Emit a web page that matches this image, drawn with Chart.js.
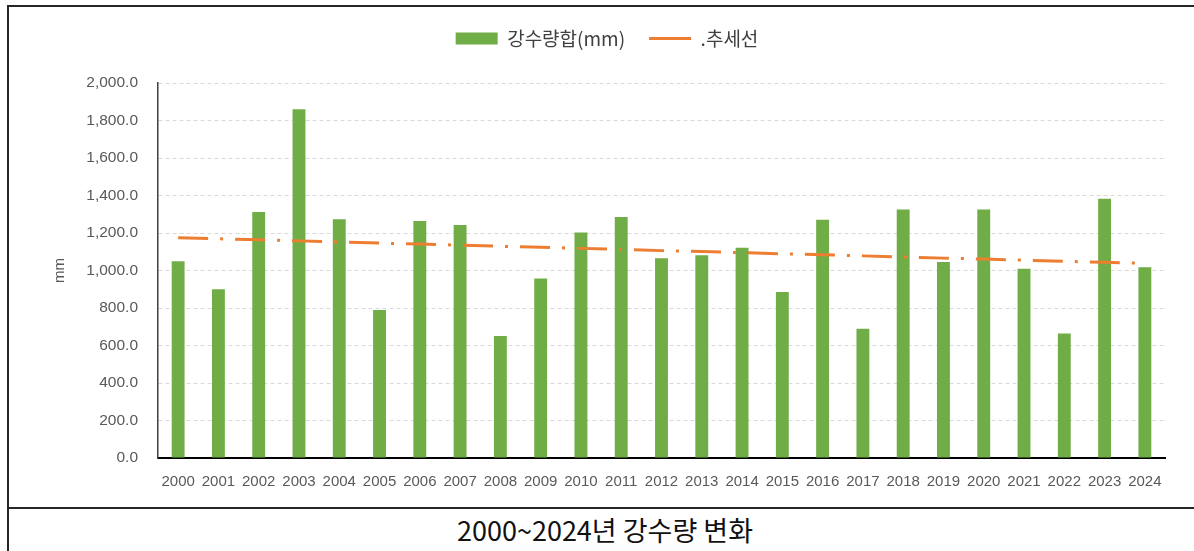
<!DOCTYPE html>
<html>
<head>
<meta charset="utf-8">
<script src="https://cdn.jsdelivr.net/npm/chart.js@4.4.0/dist/chart.umd.min.js"></script>
<style>
  body { margin: 0; background: #fff; width: 1194px; height: 551px; overflow: hidden; position: relative; }
  #frame { position: absolute; left: 7px; top: 5px; width: 1200px; height: 560px; border-left: 2px solid #262626; border-top: 2px solid #262626; }
  #chartBox { position: absolute; left: 9px; top: 7px; width: 1185px; height: 500px; }
  #sep { position: absolute; left: 7px; top: 507px; width: 1200px; height: 2px; background: #262626; }
  #caption { position: absolute; left: 9px; top: 509px; width: 1192px; height: 42px; line-height: 42px; text-align: center;
             font-family: "Noto Sans CJK KR", sans-serif; font-size: 27px; color: #111; }
</style>
</head>
<body>
<div id="frame"></div>
<div id="chartBox"><canvas id="rainChart"></canvas></div>
<div id="sep"></div>
<div id="caption">2000~2024년 강수량 변화</div>
<script>
var years = ["2000","2001","2002","2003","2004","2005","2006","2007","2008","2009","2010","2011","2012",
             "2013","2014","2015","2016","2017","2018","2019","2020","2021","2022","2023","2024"];
var rainfall = [1050, 900, 1312, 1860, 1274, 789, 1264, 1243, 651, 958, 1203, 1285, 1066,
                1081, 1122, 885, 1271, 690, 1326, 1046, 1326, 1010, 664, 1383, 1018];
var trend = [1175, 1169, 1164, 1158, 1152, 1146, 1141, 1135, 1129, 1124, 1118, 1112, 1106,
             1101, 1095, 1089, 1084, 1078, 1072, 1066, 1061, 1055, 1049, 1044, 1038];
var yTicks = [0, 200, 400, 600, 800, 1000, 1200, 1400, 1600, 1800, 2000];

var bar_color = "#70AD47";
var trend_color = "#ED7D31";
var tick_color = "#595959";

// push the plot area down below the legend
var legendSpacer = {
  id: 'legendSpacer',
  beforeInit: function(chart) {
    var origFit = chart.legend.fit;
    chart.legend.fit = function() {
      origFit.bind(chart.legend)();
      this.height += 25;
    };
  }
};

var ctx = document.getElementById("rainChart").getContext('2d');
var rain_chart = new Chart(ctx, {
  type: 'bar',
  data: {
    labels: years,
    datasets: [{
        label: "강수량합(mm)",
        type: "bar",
        backgroundColor: bar_color,
        data: rainfall,
        barPercentage: 0.32,
        categoryPercentage: 1.0,
        order: 1
      }, {
        label: ".추세선",
        type: "line",
        borderColor: trend_color,
        backgroundColor: trend_color,
        borderWidth: 3,
        borderDash: [30, 12, 3, 12],
        pointRadius: 0,
        fill: false,
        data: trend,
        order: 0
      }
    ]
  },
  plugins: [legendSpacer],
  options: {
    responsive: true,
    maintainAspectRatio: false,
    animation: false,
    layout: { padding: { left: 40, right: 29, top: -2, bottom: 0 } },
    plugins: {
      tooltip: { enabled: false },
      legend: {
        position: 'top',
        labels: {
          usePointStyle: true,
          pointStyleWidth: 42,
          boxHeight: 12,
          padding: 24,
          color: "#404040",
          font: { family: "'Noto Sans CJK KR', sans-serif", size: 19 },
          generateLabels: function(chart) {
            var items = Chart.defaults.plugins.legend.labels.generateLabels(chart);
            items.forEach(function(it) {
              it.lineDash = [];
              it.pointStyle = it.datasetIndex === 0 ? 'rect' : 'line';
            });
            return items.sort(function(a, b) { return a.datasetIndex - b.datasetIndex; });
          }
        }
      }
    },
    scales: {
      x: {
        grid: { display: false, drawTicks: false },
        border: { display: true, color: "#000", width: 2 },
        ticks: { color: tick_color, padding: 15, maxRotation: 0, autoSkip: false,
                 font: { family: "'Liberation Sans', Arial, sans-serif", size: 15 } },
        afterFit: function(scale) { scale.height = 49; }
      },
      y: {
        min: 0,
        max: 2000,
        afterBuildTicks: function(scale) {
          scale.ticks = yTicks.map(function(v) { return { value: v }; });
        },
        grid: { color: "#d9d9d9", lineWidth: 1, drawTicks: false },
        border: { display: true, color: "#404040", width: 1.5, dash: [4, 3] },
        ticks: {
          color: tick_color,
          padding: 20,
          font: { family: "'Liberation Sans', Arial, sans-serif", size: 15.5 },
          callback: function(v) {
            return Number(v).toLocaleString('en-US', { minimumFractionDigits: 1, maximumFractionDigits: 1 });
          }
        },
        title: {
          display: true,
          text: "mm",
          color: tick_color,
          font: { family: "'Liberation Sans', Arial, sans-serif", size: 15 },
          padding: 2
        },
        afterFit: function(scale) { scale.width = 109; }
      }
    }
  }
});
</script>
</body>
</html>
